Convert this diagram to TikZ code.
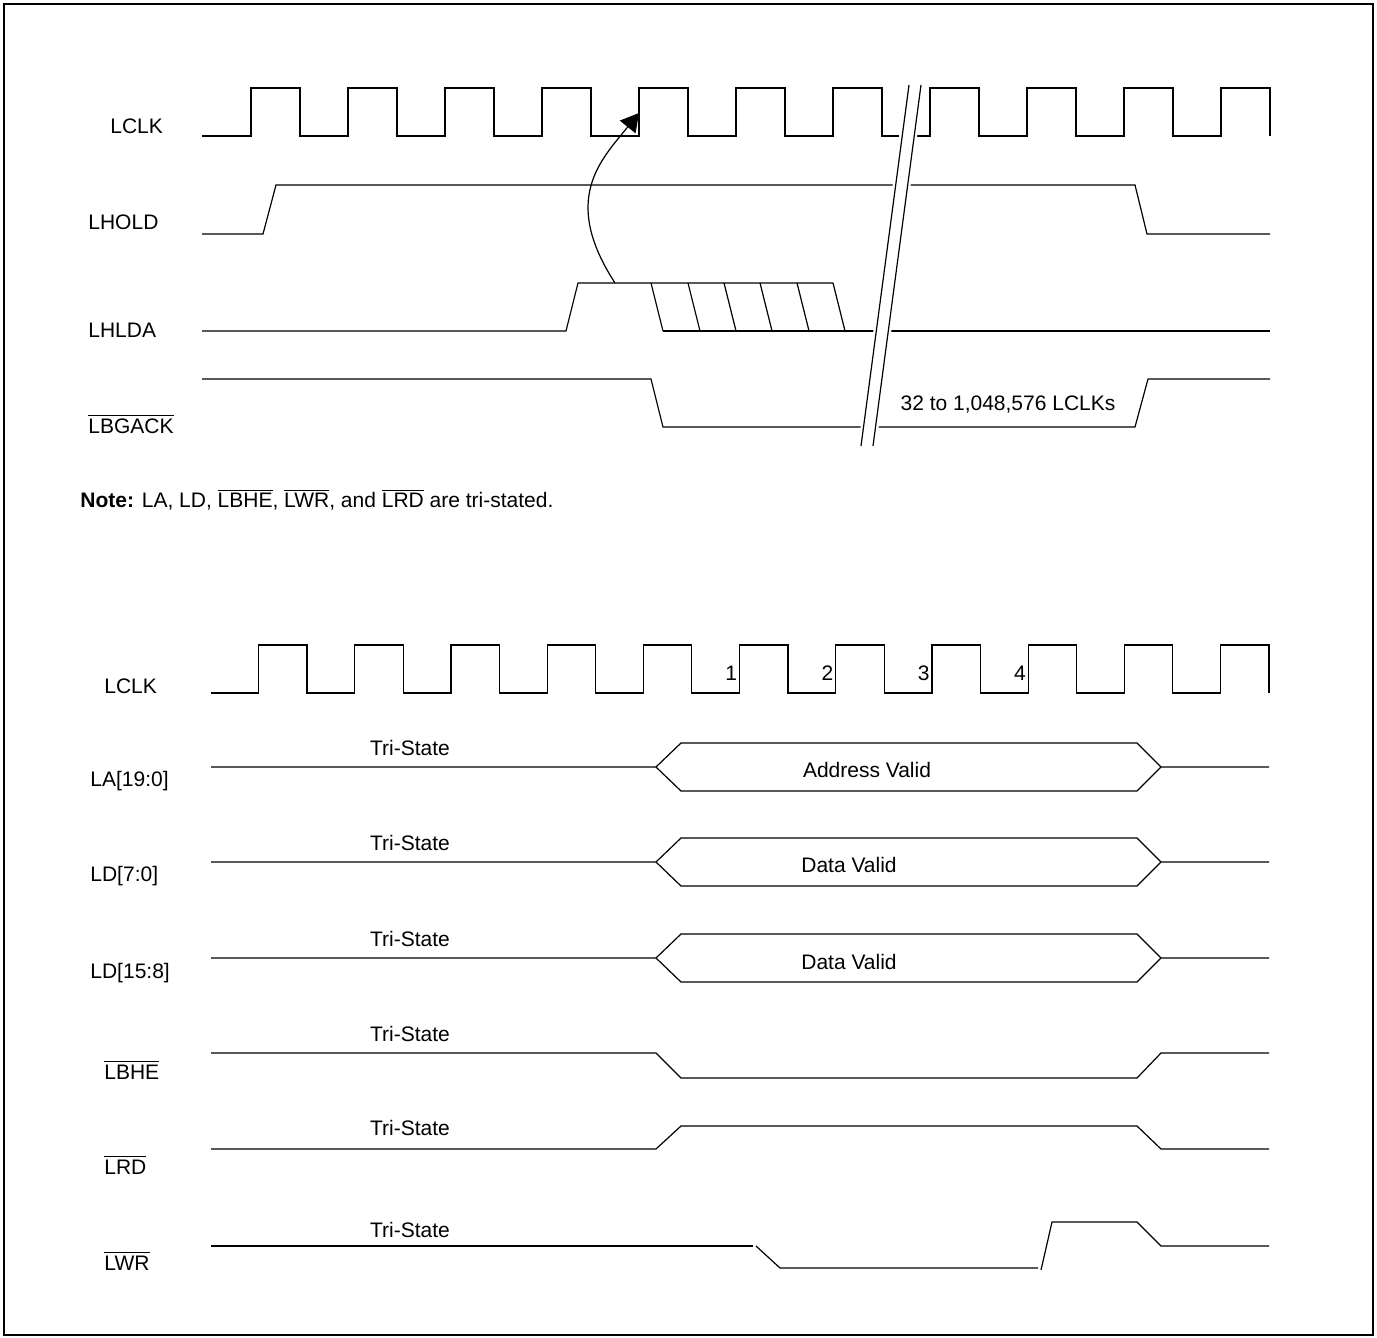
\documentclass[tikz,border=0pt]{standalone}
\usepackage{fontspec}
\setmainfont{Liberation Sans}
\usetikzlibrary{arrows.meta}
\newcommand{\ovl}[1]{$\overline{\hbox{#1}}$}

\begin{document}
\begin{tikzpicture}[x=0.5pt, y=-0.5pt, font=\fontsize{10.5}{12.6}\selectfont,
    sig/.style={line width=0.6pt},
    lbl/.style={anchor=base west, inner sep=0pt},
    tri/.style={anchor=base, inner sep=0pt},
    arr/.style={-{Triangle[length=9pt,width=10pt]}, line width=0.6pt}]
  \useasboundingbox (0,0) rectangle (1377,1338);
  \draw[line width=1pt] (4,4) rectangle (1373,1335);

  % hold / hold acknowledge
  \node[lbl] (clkA) at (110,133.5) {LCLK};
  \node[lbl] (hold) at (88,229.5) {LHOLD};
  \node[lbl] (hlda) at (88,337.5) {LHLDA};
  \node[lbl] (bgack) at (88,433) {\ovl{LBGACK}};

  \draw[sig] (202,136) foreach \k in {0,...,10} {
      -- ({251+97*\k},136) -- ({251+97*\k},88) -- ({300+97*\k},88) -- ({300+97*\k},136)};
  \draw[sig] (202,234) -- (263,234) -- (276,185) -- (1135,185) -- (1147,234) -- (1270,234);
  \draw[sig] (202,331) -- (566,331) -- (578,283) -- (833,283);
  \foreach \x in {651,688,724,760,797,833}
    \draw[sig] (\x,283) -- (\x+12,331);
  \draw[sig] (663,331) -- (1270,331);
  \draw[sig] (202,379) -- (651,379) -- (663,427) -- (1135,427) -- (1148,379) -- (1270,379);

  % break
  \fill[white] (858,447) -- (906,84) -- (924,84) -- (876,447) -- cycle;
  \draw[sig] (861,446) -- (909,85) (873,446) -- (921,85);
  \node[tri] (span) at (1008,410.5) {32 to 1,048,576 LCLKs};

  \coordinate (hldaUp) at (615,283);
  \coordinate (clkEdge) at (639,113);
  \draw[arr] (hldaUp) .. controls (560.5,199) and (601,160) .. (clkEdge);

  \node[lbl] (note) at (80,507.5) {\textbf{Note:} LA, LD, \ovl{LBHE}, \ovl{LWR}, and \ovl{LRD} are tri-stated.};

  % bus float
  \node[lbl] (clkB) at (104,693.5) {LCLK};
  \node[lbl] (la) at (90,786.5) {LA[19:0]};
  \node[lbl] (ldlo) at (90,881.5) {LD[7:0]};
  \node[lbl] (ldhi) at (90,978.5) {LD[15:8]};
  \node[lbl] (bhe) at (104,1079) {\ovl{LBHE}};
  \node[lbl] (rd) at (104,1174) {\ovl{LRD}};
  \node[lbl] (wr) at (104,1270) {\ovl{LWR}};

  \draw[sig] (211,693) foreach \k in {0,...,10} {
      -- ({258.5+96.2*\k},693) -- ({258.5+96.2*\k},645) -- ({307+96.2*\k},645) -- ({307+96.2*\k},693)};
  \foreach \n [count=\i from 5] in {1,2,3,4}
    \node[anchor=base east, inner sep=0pt] (cyc\n) at ({256.5+96.2*\i},680.5) {\n};

  \foreach \y in {767,862,958} {
    \draw[sig] (211,\y) -- (656,\y) -- (681,\y-24) -- (1137,\y-24) -- (1161,\y) -- (1269,\y);
    \draw[sig] (656,\y) -- (681,\y+24) -- (1137,\y+24) -- (1161,\y);
  }
  \node[tri] (addr) at (867,777.5) {Address Valid};
  \node[tri] (dlo) at (849,872.5) {Data Valid};
  \node[tri] (dhi) at (849,969.5) {Data Valid};

  \draw[sig] (211,1053) -- (656,1053) -- (681,1078) -- (1137,1078) -- (1161,1053) -- (1269,1053);
  \draw[sig] (211,1149) -- (656,1149) -- (681,1126) -- (1137,1126) -- (1161,1149) -- (1269,1149);
  \draw[sig] (211,1246) -- (753,1246);
  \draw[sig] (756,1246) -- (780,1268) -- (1038,1268);
  \draw[sig] (1041,1270) -- (1052,1222) -- (1137,1222) -- (1161,1246) -- (1269,1246);

  \foreach \y [count=\i] in {755.5,850.5,946.5,1041.5,1135.5,1237.5}
    \node[tri] (tri\i) at (410,\y) {Tri-State};
\end{tikzpicture}
\end{document}
